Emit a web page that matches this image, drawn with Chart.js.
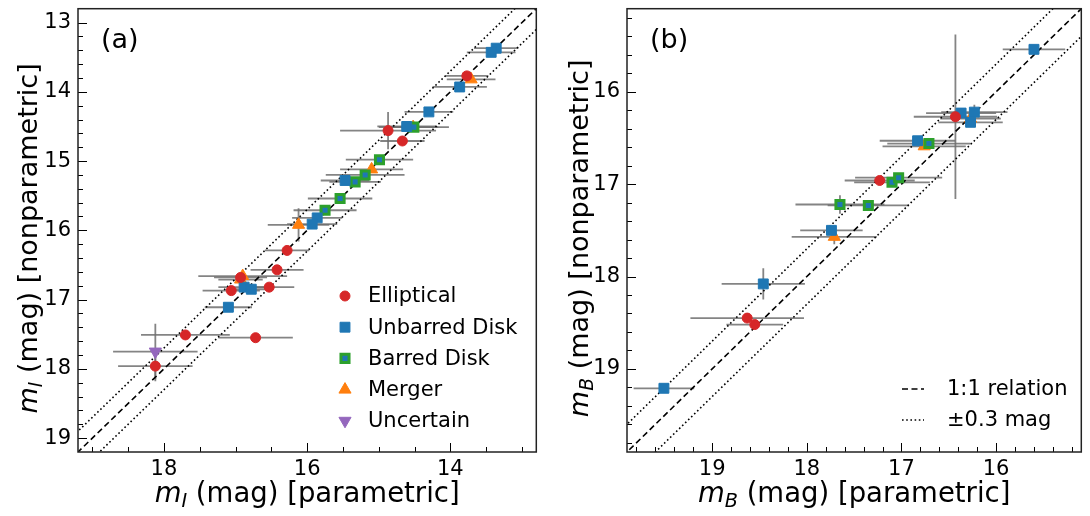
<!DOCTYPE html>
<html>
<head>
<meta charset="utf-8">
<script src="https://cdn.jsdelivr.net/npm/chart.js@4.4.1/dist/chart.umd.min.js"></script>
<style>
  html, body { margin: 0; padding: 0; background: #fff; }
  #wrap { position: relative; width: 1090px; height: 516px; overflow: hidden; }
  canvas { position: absolute; top: 0; }
  #panelI { left: 0; }
  #panelB { left: 545px; }
</style>
</head>
<body>
<div id="wrap">
  <canvas id="panelI" width="545" height="516"></canvas>
  <canvas id="panelB" width="545" height="516"></canvas>
</div>
<script>
// ---------- I band: parametric (x) vs nonparametric (y) magnitudes ----------
const iEllX  = [13.77, 14.87, 14.67, 16.28, 16.42, 16.53, 16.93, 17.06, 17.70, 16.72, 18.12];
const iEllY  = [13.77, 14.56, 14.71, 16.29, 16.57, 16.82, 16.68, 16.87, 17.51, 17.55, 17.96];
const iEllEx = [0.30, 0.67, 0.31, 0.31, 0.37, 0.35, 0.37, 0.40, 0.62, 0.52, 0.52];
const iEllEy = [0, 0.27, 0, 0, 0, 0, 0, 0, 0.05, 0, 0.22];

const iUnbX  = [13.36, 13.43, 13.87, 14.30, 14.61, 15.47, 15.86, 15.93, 16.88, 16.78, 17.10];
const iUnbY  = [13.37, 13.43, 13.93, 14.29, 14.50, 15.28, 15.82, 15.91, 16.82, 16.85, 17.11];
const iUnbEx = [0.31, 0.34, 0.38, 0.34, 0.41, 0.34, 0.35, 0.35, 0.36, 0.30, 0.33];
const iUnbEy = [0, 0, 0, 0, 0, 0, 0, 0, 0, 0, 0];

const iBarX  = [14.51, 14.99, 15.19, 15.33, 15.54, 15.75];
const iBarY  = [14.51, 14.98, 15.20, 15.30, 15.54, 15.71];
const iBarEx = [0.49, 0.47, 0.55, 0.36, 0.45, 0.44];
const iBarEy = [0, 0, 0, 0.07, 0, 0];

const iMrgX  = [13.71, 14.52, 15.10, 16.12, 16.90, 16.93];
const iMrgY  = [13.82, 14.51, 15.12, 15.92, 16.66, 16.71];
const iMrgEx = [0.34, 0.35, 0.44, 0.43, 0.62, 0.31];
const iMrgEy = [0, 0, 0, 0.24, 0, 0];

const iUncX  = [18.12];
const iUncY  = [17.75];
const iUncEx = [0.59];
const iUncEy = [0.40];

// ---------- B band ----------
const bEllX  = [16.43, 17.23, 18.63, 18.55];
const bEllY  = [16.27, 16.96, 18.45, 18.52];
const bEllEx = [0.44, 0.37, 0.60, 0.30];
const bEllEy = [0.89, 0, 0.05, 0.05];

const bUnbX  = [15.60, 16.37, 16.23, 16.27, 16.83, 17.74, 18.46, 19.51];
const bUnbY  = [15.54, 16.23, 16.22, 16.33, 16.53, 17.50, 18.08, 19.21];
const bUnbEx = [0.33, 0.37, 0.35, 0.34, 0.40, 0.33, 0.44, 0.32];
const bUnbEy = [0, 0, 0.08, 0, 0, 0, 0.17, 0];

const bBarX  = [16.71, 17.10, 17.03, 17.65, 17.35];
const bBarY  = [16.56, 16.98, 16.93, 17.22, 17.23];
const bBarEx = [0.44, 0.40, 0.46, 0.47, 0.43];
const bBarEy = [0, 0, 0, 0.10, 0];

const bMrgX  = [16.27, 16.76, 17.71];
const bMrgY  = [16.29, 16.59, 17.57];
const bMrgEx = [0.32, 0.44, 0.45];
const bMrgEy = [0, 0, 0.08];

// reference relation
const relationEnds = [12, 21];
const relationScatter = 0.3;

// axes: limits and tick labels
const iLimits = [12.8, 19.2];
const iTicksX = [14, 16, 18];
const iTicksY = [13, 14, 15, 16, 17, 18, 19];
const bLimits = [15.1, 19.9];
const bTicksX = [16, 17, 18, 19];
const bTicksY = [16, 17, 18, 19];

const classNames = ['Elliptical', 'Unbarred Disk', 'Barred Disk', 'Merger', 'Uncertain'];
const relationNames = ['1:1 relation', '\u00b10.3 mag'];

// ---------- styling ----------
const FONT = "'DejaVu Sans', 'Liberation Sans', sans-serif";
Chart.defaults.font.family = FONT;
Chart.defaults.color = '#000';

const C = { red: '#d62728', blue: '#1f77b4', green: '#2ca02c', orange: '#ff7f0e', purple: '#9467bd' };

const classStyles = [
  { pointStyle: 'circle',   radius: 5,   rotation: 0,   fill: C.red,    stroke: C.red,    bw: 1 },
  { pointStyle: 'rect',     radius: 7,   rotation: 0,   fill: C.blue,   stroke: C.blue,   bw: 1 },
  { pointStyle: 'rect',     radius: 5.7, rotation: 0,   fill: C.blue,   stroke: C.green,  bw: 3 },
  { pointStyle: 'triangle', radius: 7,   rotation: 0,   fill: C.orange, stroke: C.orange, bw: 1 },
  { pointStyle: 'triangle', radius: 7,   rotation: 180, fill: C.purple, stroke: C.purple, bw: 1 }
];

function zipPoints(xs, ys, exs, eys) {
  return xs.map((x, i) => ({ x: x, y: ys[i], ex: exs[i], ey: eys[i] }));
}

function classDataset(k, pts) {
  const s = classStyles[k];
  return {
    type: 'scatter', label: classNames[k], data: pts, errorBars: true, order: 1,
    pointStyle: s.pointStyle, pointRadius: s.radius, pointRotation: s.rotation,
    pointBackgroundColor: s.fill, pointBorderColor: s.stroke, pointBorderWidth: s.bw,
    pointHoverRadius: s.radius
  };
}

function relationDatasets() {
  const mk = (off) => relationEnds.map(v => ({ x: v, y: v + off }));
  const base = { type: 'line', pointRadius: 0, borderColor: '#000', borderWidth: 1.6, fill: false, order: 5 };
  return [
    Object.assign({}, base, { label: relationNames[0], data: mk(0), borderDash: [6, 3.5] }),
    Object.assign({}, base, { label: relationNames[1], data: mk(-relationScatter), borderDash: [1.6, 2.6] }),
    Object.assign({}, base, { label: '', data: mk(relationScatter), borderDash: [1.6, 2.6] })
  ];
}

// ---------- drawing helpers ----------
function markerPath(ctx, style, r, rot, x, y) {
  ctx.beginPath();
  if (style === 'circle') {
    ctx.arc(x, y, r, 0, Math.PI * 2);
  } else if (style === 'rect') {
    const s = Math.SQRT1_2 * r;
    ctx.rect(x - s, y - s, 2 * s, 2 * s);
  } else {
    let a = rot * Math.PI / 180;
    ctx.moveTo(x + Math.sin(a) * r, y - Math.cos(a) * r);
    a += 2 * Math.PI / 3;
    ctx.lineTo(x + Math.sin(a) * r, y - Math.cos(a) * r);
    a += 2 * Math.PI / 3;
    ctx.lineTo(x + Math.sin(a) * r, y - Math.cos(a) * r);
    ctx.closePath();
  }
}

// rich label: parts = [{t, it, sub}]
function drawRich(ctx, parts, cx, cy, size, rotate) {
  const fontOf = (p) => (p.it ? 'italic ' : '') + (p.sub ? size * 0.7 : size) + 'px ' + FONT;
  let total = 0;
  const widths = parts.map(p => { ctx.font = fontOf(p); const w = ctx.measureText(p.t).width; total += w; return w; });
  ctx.save();
  ctx.translate(cx, cy);
  if (rotate) ctx.rotate(-Math.PI / 2);
  ctx.fillStyle = '#000';
  ctx.textBaseline = 'alphabetic';
  ctx.textAlign = 'left';
  let x = -total / 2;
  const base = size * 0.36;
  parts.forEach((p, i) => {
    ctx.font = fontOf(p);
    ctx.fillText(p.t, x, base + (p.sub ? size * 0.2 : 0));
    x += widths[i];
  });
  ctx.restore();
}

function minorValues(min, max, step) {
  const out = [];
  for (let k = Math.ceil(min / step - 1e-9); k <= Math.floor(max / step + 1e-9); k++) out.push(k * step);
  return out;
}

const errorBarPlugin = {
  id: 'errorBarPlugin',
  beforeDatasetsDraw(chart) {
    const { ctx, chartArea: a } = chart;
    const xs = chart.scales.x, ys = chart.scales.y;
    ctx.save();
    ctx.beginPath(); ctx.rect(a.left, a.top, a.right - a.left, a.bottom - a.top); ctx.clip();
    ctx.strokeStyle = 'rgba(110,110,110,0.85)';
    ctx.lineWidth = 1.8;
    chart.data.datasets.forEach(ds => {
      if (!ds.errorBars) return;
      ds.data.forEach(p => {
        const px = xs.getPixelForValue(p.x), py = ys.getPixelForValue(p.y);
        if (p.ex) {
          ctx.beginPath();
          ctx.moveTo(xs.getPixelForValue(p.x - p.ex), py);
          ctx.lineTo(xs.getPixelForValue(p.x + p.ex), py);
          ctx.stroke();
        }
        if (p.ey) {
          ctx.beginPath();
          ctx.moveTo(px, ys.getPixelForValue(p.y - p.ey));
          ctx.lineTo(px, ys.getPixelForValue(p.y + p.ey));
          ctx.stroke();
        }
      });
    });
    ctx.restore();
  }
};

const framePlugin = {
  id: 'framePlugin',
  afterDraw(chart, args, o) {
    const { ctx, chartArea: a } = chart;
    const xs = chart.scales.x, ys = chart.scales.y;
    ctx.save();
    // inward ticks
    ctx.strokeStyle = '#000';
    ctx.lineWidth = 1;
    const drawX = (vals, len) => vals.forEach(v => {
      const px = Math.round(xs.getPixelForValue(v)) + 0.5;
      if (px < a.left + 1 || px > a.right - 1) return;
      ctx.beginPath(); ctx.moveTo(px, a.bottom); ctx.lineTo(px, a.bottom - len); ctx.stroke();
    });
    const drawY = (vals, len) => vals.forEach(v => {
      const py = Math.round(ys.getPixelForValue(v)) + 0.5;
      if (py < a.top + 1 || py > a.bottom - 1) return;
      ctx.beginPath(); ctx.moveTo(a.left, py); ctx.lineTo(a.left + len, py); ctx.stroke();
    });
    drawX(minorValues(xs.min, xs.max, o.xMinor), 5);
    drawY(minorValues(ys.min, ys.max, o.yMinor), 5);
    drawX(o.xMajor, 9);
    drawY(o.yMajor, 9);
    // frame
    ctx.strokeStyle = '#222';
    ctx.lineWidth = 1.5;
    ctx.strokeRect(a.left, a.top, a.right - a.left, a.bottom - a.top);
    // axis titles
    drawRich(ctx, o.xTitle, (a.left + a.right) / 2, 492, 27.5, false);
    drawRich(ctx, o.yTitle, o.yTitleX, (a.top + a.bottom) / 2 + 8, 27, true);
    // panel tag
    ctx.font = '27px ' + FONT;
    ctx.fillStyle = '#000';
    ctx.textAlign = 'left';
    ctx.textBaseline = 'middle';
    ctx.fillText(o.tag, a.left + 23, 41);
    // legend
    const L = o.legend;
    ctx.font = '21px ' + FONT;
    L.items.forEach((it, i) => {
      const y = L.y0 + i * L.dy;
      if (it.kind === 'marker') {
        const s = classStyles[it.k];
        markerPath(ctx, s.pointStyle, s.radius, s.rotation, L.mx, y);
        ctx.fillStyle = s.fill; ctx.fill();
        ctx.lineWidth = s.bw; ctx.strokeStyle = s.stroke; ctx.setLineDash([]); ctx.stroke();
      } else {
        ctx.beginPath();
        ctx.strokeStyle = '#000'; ctx.lineWidth = 1.6;
        ctx.setLineDash(it.dash);
        ctx.moveTo(L.mx - 11, y); ctx.lineTo(L.mx + 11, y); ctx.stroke();
        ctx.setLineDash([]);
      }
      ctx.fillStyle = '#000';
      ctx.textAlign = 'left';
      ctx.textBaseline = 'middle';
      ctx.fillText(it.label, L.tx, y + 1);
    });
    ctx.restore();
  }
};

function axisOptions(lim, ticks, size, pad) {
  return {
    type: 'linear', reverse: true, min: lim[0], max: lim[1],
    afterBuildTicks: (s) => { s.ticks = ticks.map(v => ({ value: v })); },
    ticks: { font: { size: 21 }, color: '#000', padding: pad, autoSkip: false, maxRotation: 0,
             callback: (v) => String(v) },
    grid: { display: false, drawTicks: false },
    border: { display: false },
    afterFit: (s) => {
      if (s.isHorizontal()) s.height = size; else s.width = size;
      s.paddingTop = 0; s.paddingBottom = 0; s.paddingLeft = 0; s.paddingRight = 0;
    }
  };
}

function makeChart(id, datasets, cfg) {
  return new Chart(document.getElementById(id), {
    data: { datasets: datasets },
    options: {
      responsive: false, animation: false, devicePixelRatio: 1,
      layout: { padding: { left: 0, right: cfg.padRight, top: 3, bottom: 0 } },
      scales: {
        x: axisOptions(cfg.lim, cfg.ticksX, 64, 5),
        y: axisOptions(cfg.lim, cfg.ticksY, cfg.yWidth, 7)
      },
      plugins: {
        legend: { display: false },
        tooltip: { enabled: false },
        framePlugin: cfg.frame
      }
    },
    plugins: [errorBarPlugin, framePlugin]
  });
}

// ---------- panel (a): I band ----------
makeChart('panelI', [
  ...relationDatasets(),
  classDataset(0, zipPoints(iEllX, iEllY, iEllEx, iEllEy)),
  classDataset(1, zipPoints(iUnbX, iUnbY, iUnbEx, iUnbEy)),
  classDataset(2, zipPoints(iBarX, iBarY, iBarEx, iBarEy)),
  classDataset(3, zipPoints(iMrgX, iMrgY, iMrgEx, iMrgEy)),
  classDataset(4, zipPoints(iUncX, iUncY, iUncEx, iUncEy))
], {
  lim: iLimits, ticksX: iTicksX, ticksY: iTicksY, yWidth: 78, padRight: 8,
  frame: {
    xMajor: iTicksX, yMajor: iTicksY, xMinor: 0.5, yMinor: 0.2, tag: '(a)',
    xTitle: [{ t: 'm', it: true }, { t: 'I', it: true, sub: true }, { t: ' (mag) [parametric]' }],
    yTitle: [{ t: 'm', it: true }, { t: 'I', it: true, sub: true }, { t: ' (mag) [nonparametric]' }],
    yTitleX: 27,
    legend: {
      mx: 345, tx: 368, y0: 296, dy: 31.2,
      items: classNames.map((n, k) => ({ kind: 'marker', k: k, label: n }))
    }
  }
});

// ---------- panel (b): B band ----------
makeChart('panelB', [
  ...relationDatasets(),
  classDataset(0, zipPoints(bEllX, bEllY, bEllEx, bEllEy)),
  classDataset(1, zipPoints(bUnbX, bUnbY, bUnbEx, bUnbEy)),
  classDataset(2, zipPoints(bBarX, bBarY, bBarEx, bBarEy)),
  classDataset(3, zipPoints(bMrgX, bMrgY, bMrgEx, bMrgEy))
], {
  lim: bLimits, ticksX: bTicksX, ticksY: bTicksY, yWidth: 82, padRight: 4,
  frame: {
    xMajor: bTicksX, yMajor: bTicksY, xMinor: 0.2, yMinor: 0.2, tag: '(b)',
    xTitle: [{ t: 'm', it: true }, { t: 'B', it: true, sub: true }, { t: ' (mag) [parametric]' }],
    yTitle: [{ t: 'm', it: true }, { t: 'B', it: true, sub: true }, { t: ' (mag) [nonparametric]' }],
    yTitleX: 33,
    legend: {
      mx: 368, tx: 402, y0: 389, dy: 31,
      items: [
        { kind: 'line', dash: [6, 3.5], label: relationNames[0] },
        { kind: 'line', dash: [1.6, 2.6], label: relationNames[1] }
      ]
    }
  }
});
</script>
</body>
</html>
